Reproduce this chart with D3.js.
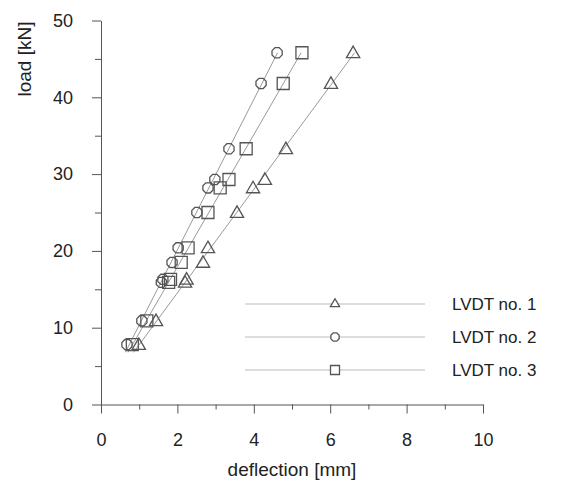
<!DOCTYPE html>
<html>
<head>
<meta charset="utf-8">
<script src="https://cdn.jsdelivr.net/npm/d3@7"></script>
<style>
  body { margin: 0; background: #fff; }
  text { font-family: "Liberation Sans", Arial, sans-serif; fill: #222; }
</style>
</head>
<body>
<script>
// load levels [kN] and deflections [mm] for each LVDT
var load  = [7.8, 10.9, 15.9, 16.3, 18.5, 20.4, 25.0, 28.2, 29.3, 33.3, 41.8, 45.8];
var lvdt1 = [0.99, 1.44, 2.20, 2.24, 2.67, 2.80, 3.56, 3.98, 4.29, 4.84, 6.02, 6.60];
var lvdt2 = [0.68, 1.07, 1.58, 1.62, 1.86, 2.02, 2.51, 2.80, 2.98, 3.35, 4.19, 4.61];
var lvdt3 = [0.82, 1.20, 1.77, 1.82, 2.10, 2.28, 2.80, 3.12, 3.35, 3.80, 4.77, 5.26];
var seriesNames = ["LVDT no. 1", "LVDT no. 2", "LVDT no. 3"];
var xTicks = [0, 2, 4, 6, 8, 10];
var yTicks = [0, 10, 20, 30, 40, 50];

var width = 569, height = 498;
var x0 = 101, x1 = 483, y0 = 404.5, y1 = 20.5;

var svg = d3.select('body').append('svg')
  .attr('width', width)
  .attr('height', height);

var xScale = d3.scaleLinear().domain([0, 10]).range([x0, x1]);
var yScale = d3.scaleLinear().domain([0, 50]).range([y0, y1]);

var axisColor = '#555';

// y axis, major + minor ticks
var yAxis = svg.append('g')
  .attr('transform', 'translate(' + x0 + ',0)')
  .call(d3.axisLeft(yScale).tickValues(d3.range(0, 51, 5)).tickSize(9).tickSizeOuter(0)
    .tickFormat(function(d){ return d % 10 === 0 ? d : ''; }).tickPadding(19));
yAxis.selectAll('.tick line').attr('x2', function(d){ return d % 10 === 0 ? -9 : -6; });

// x axis
var xAxis = svg.append('g')
  .attr('transform', 'translate(0,' + y0 + ')')
  .call(d3.axisBottom(xScale).tickValues(d3.range(0, 11, 1)).tickSize(9).tickSizeOuter(0)
    .tickFormat(function(d){ return d % 2 === 0 ? d : ''; }).tickPadding(20));
xAxis.selectAll('.tick line').attr('y2', function(d){ return d % 2 === 0 ? 9 : 5; });

svg.selectAll('.domain, .tick line').attr('stroke', axisColor);
svg.selectAll('.tick text')
  .style('font-size', '18px')
  .attr('fill', '#222')
  .style('font-family', '"Liberation Sans", Arial, sans-serif');

// axis titles
svg.append('text')
  .attr('x', (x0 + x1) / 2)
  .attr('y', 476)
  .attr('text-anchor', 'middle')
  .style('font-size', '19px')
  .text('deflection [mm]');

svg.append('text')
  .attr('transform', 'translate(31,59) rotate(-90)')
  .attr('text-anchor', 'middle')
  .style('font-size', '19px')
  .text('load [kN]');

// marker shapes
var octagon = function(r) {
  var pts = d3.range(8).map(function(i){
    var a = Math.PI / 8 + i * Math.PI / 4;
    return [r * Math.cos(a), r * Math.sin(a)];
  });
  return 'M' + pts.join('L') + 'Z';
};
var markers = [
  function(s){ return d3.symbol().type(d3.symbolTriangle).size(s * s * 0.45)(); },
  function(s){ return octagon(s / 2); },
  function(s){ return d3.symbol().type(d3.symbolSquare).size(s * s)(); }
];

var allSeries = [lvdt1, lvdt2, lvdt3];

// fitted lines (deflection = a + b * load)
allSeries.forEach(function(vals) {
  var mx = d3.mean(load), my = d3.mean(vals);
  var b = d3.sum(load, function(l, i){ return (l - mx) * (vals[i] - my); }) /
          d3.sum(load, function(l){ return (l - mx) * (l - mx); });
  var a = my - b * mx;
  var lo = d3.min(load) - 1, hi = d3.max(load);
  svg.append('line')
    .attr('x1', xScale(a + b * lo)).attr('y1', yScale(lo))
    .attr('x2', xScale(a + b * hi)).attr('y2', yScale(hi))
    .attr('stroke', '#999').attr('stroke-width', 1);
});

// markers
var sizes = [13, 11, 12];
allSeries.forEach(function(vals, k) {
  svg.append('g').selectAll('path')
    .data(vals)
    .enter().append('path')
      .attr('d', markers[k](sizes[k]))
      .attr('transform', function(d, i){
        var dy = k === 0 ? 1 : 0;
        return 'translate(' + xScale(d) + ',' + (yScale(load[i]) + dy) + ')';
      })
      .attr('fill', 'none')
      .attr('stroke', '#555')
      .attr('stroke-width', 1.3);
});

// legend
var legend = svg.append('g').attr('transform', 'translate(245,304)');
seriesNames.forEach(function(name, k) {
  var g = legend.append('g').attr('transform', 'translate(0,' + (k * 33) + ')');
  g.append('line').attr('x1', 0).attr('x2', 180).attr('y1', 0).attr('y2', 0)
    .attr('stroke', '#bbb').attr('stroke-width', 1);
  g.append('path')
    .attr('d', markers[k](9))
    .attr('transform', 'translate(90,' + (k === 0 ? 0 : 0) + ')')
    .attr('fill', '#fff')
    .attr('stroke', '#555')
    .attr('stroke-width', 1.3);
  g.append('text')
    .attr('x', 207)
    .attr('y', 6)
    .style('font-size', '17px')
    .text(name);
});
</script>
</body>
</html>
